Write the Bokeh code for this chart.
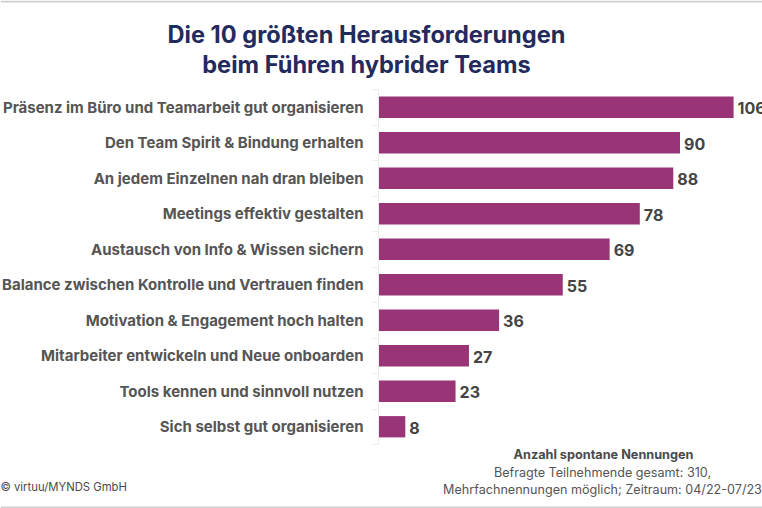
from bokeh.core.properties import value
from bokeh.plotting import figure
from bokeh.models import LinearAxis, Range1d, FixedTicker, Label, LabelSet, Span, ColumnDataSource
from bokeh.embed import file_html
from bokeh.resources import INLINE

categories = [
    "Präsenz im Büro und Teamarbeit gut organisieren",
    "Den Team Spirit & Bindung erhalten",
    "An jedem Einzelnen nah dran bleiben",
    "Meetings effektiv gestalten",
    "Austausch von Info & Wissen sichern",
    "Balance zwischen Kontrolle und Vertrauen finden",
    "Motivation & Engagement hoch halten",
    "Mitarbeiter entwickeln und Neue onboarden",
    "Tools kennen und sinnvoll nutzen",
    "Sich selbst gut organisieren",
]
values = [106, 90, 88, 78, 69, 55, 36, 27, 23, 8]
title_text = "Die 10 größten Herausforderungen\nbeim Führen hybrider Teams"
footer_bold = "Anzahl spontane Nennungen"
footer_lines = "Befragte Teilnehmende gesamt: 310,\nMehrfachnennungen möglich; Zeitraum: 04/22-07/23"
source_text = "© virtuu/MYNDS GmbH"

FONT = "Inter"
W, H = 762, 508
AX = 378          # px of the value axis origin
PX = 3.35         # px per unit
TOP, ROW = 89, 35.5

n = len(categories)
positions = [i + 0.5 for i in range(n)]
boundaries = list(range(n + 1))
src = ColumnDataSource(dict(pos=positions, val=values, txt=[str(v) for v in values]))

p = figure(width=W, height=H, output_backend="svg", toolbar_location=None,
           y_range=Range1d((H - TOP) / ROW, -TOP / ROW),
           x_range=Range1d(-AX / PX, (W - AX) / PX),
           x_axis_location=None, y_axis_location=None,
           min_border_left=0, min_border_right=0, min_border_top=0, min_border_bottom=0)
p.grid.visible = False
p.outline_line_color = None

p.hbar(y="pos", right="val", left=0, height=0.6, source=src, fill_color="#993476", line_color=None)

tick_axis = LinearAxis(fixed_location=0, bounds=(0, n),
                       ticker=FixedTicker(ticks=boundaries),
                       major_label_overrides={b: "" for b in boundaries},
                       axis_line_color="#ececec", major_tick_line_color="#ececec",
                       major_tick_out=6, major_tick_in=0,
                       minor_tick_line_color=None)
p.add_layout(tick_axis, "left")

cat_axis = LinearAxis(fixed_location=0, ticker=FixedTicker(ticks=positions),
                      major_label_overrides=dict(zip(positions, categories)),
                      axis_line_color=None, major_tick_line_color=None, minor_tick_line_color=None,
                      major_label_standoff=9,
                      major_label_text_font=FONT, major_label_text_font_style="bold",
                      major_label_text_font_size="15px", major_label_text_color="#555555")
p.add_layout(cat_axis, "left")

p.add_layout(LabelSet(x="val", y="pos", text="txt", source=src, x_offset=4, y_offset=-1,
                      text_baseline="middle", text_font=value(FONT), text_font_style="bold",
                      text_font_size="16px", text_color="#444444"))

p.add_layout(Label(x=366, y=H - 19, x_units="screen", y_units="screen", text=title_text,
                   text_align="center", text_baseline="top", text_font=FONT, text_font_style="bold",
                   text_font_size="23.6px", text_color="#232b5e", text_line_height=1.06))
p.add_layout(Label(x=603, y=H - 446, x_units="screen", y_units="screen", text=footer_bold,
                   text_align="center", text_baseline="top", text_font=FONT, text_font_style="bold",
                   text_font_size="12.7px", text_color="#4a4a4a"))
p.add_layout(Label(x=602, y=H - 464, x_units="screen", y_units="screen", text=footer_lines,
                   text_align="center", text_baseline="top", text_font=FONT,
                   text_font_size="12.6px", text_color="#555555", text_line_height=1.14))
p.add_layout(Label(x=0, y=H - 479, x_units="screen", y_units="screen", text=source_text,
                   text_align="left", text_baseline="top", text_font=FONT,
                   text_font_size="11.3px", text_color="#4a4a4a"))

for loc in (H - 1, H - 507):
    p.add_layout(Span(location=loc, location_units="screen", dimension="width",
                      line_color="#cfcfcf", line_width=2))

open("out.html", "w").write(file_html(p, INLINE))
